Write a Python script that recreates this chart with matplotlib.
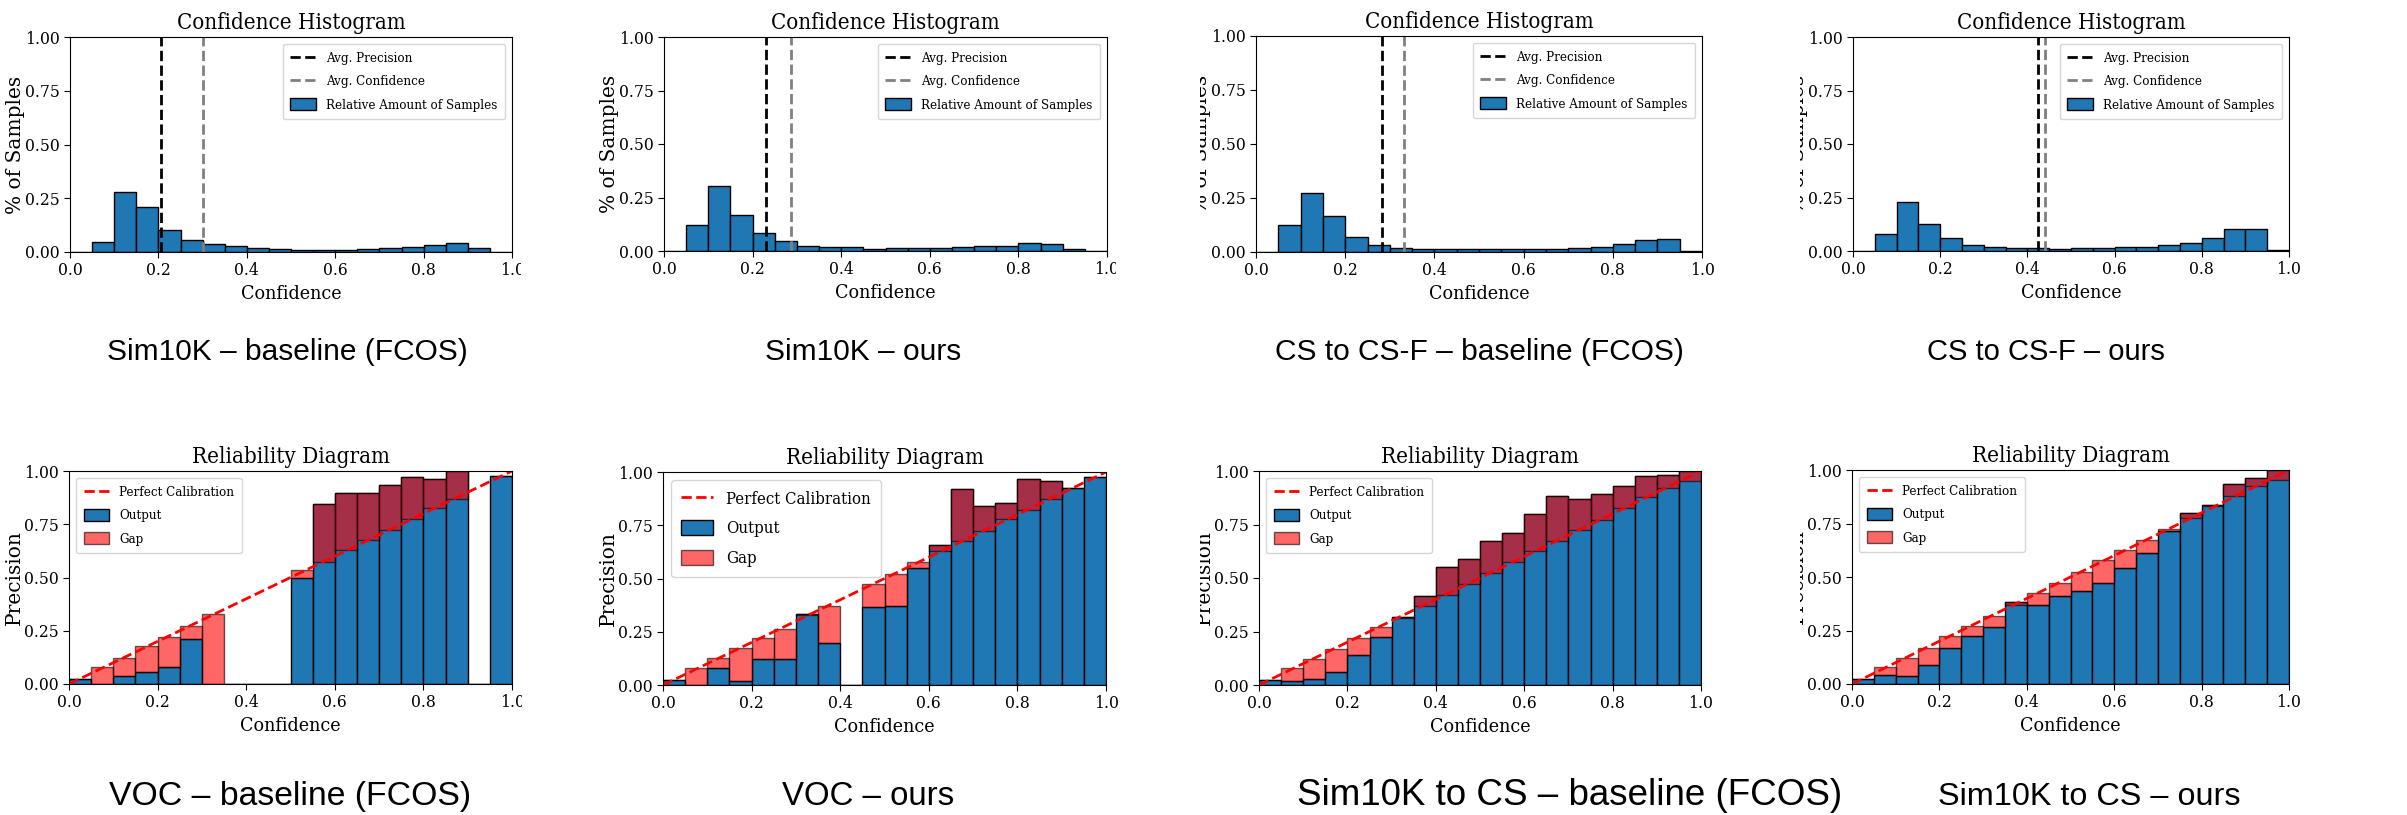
import numpy as np
import matplotlib
matplotlib.use("Agg")
import matplotlib.pyplot as plt
from matplotlib.transforms import Bbox

plt.rcParams['font.family'] = ['DejaVu Serif']
plt.rcParams['font.stretch'] = 'condensed'

W, H = 2407, 815
BLUE = '#1f77b4'

# 20 confidence bins of width 0.05
bin_left = [i * 0.05 for i in range(20)]

# Confidence histograms (top row)
hist_sim10k_base = [0.0, 0.048, 0.280, 0.211, 0.103, 0.055, 0.036, 0.028, 0.019, 0.014,
                    0.011, 0.011, 0.011, 0.014, 0.017, 0.025, 0.034, 0.041, 0.017, 0.0]
hist_sim10k_ours = [0.0, 0.123, 0.305, 0.168, 0.082, 0.049, 0.024, 0.019, 0.017, 0.011,
                    0.013, 0.014, 0.014, 0.019, 0.022, 0.024, 0.039, 0.033, 0.009, 0.0]
hist_cs_base = [0.0, 0.127, 0.272, 0.165, 0.071, 0.034, 0.020, 0.016, 0.012, 0.012,
                0.012, 0.012, 0.012, 0.014, 0.019, 0.024, 0.036, 0.055, 0.060, 0.005]
hist_cs_ours = [0.0, 0.078, 0.227, 0.127, 0.059, 0.028, 0.019, 0.014, 0.013, 0.011,
                0.013, 0.014, 0.017, 0.017, 0.029, 0.039, 0.060, 0.101, 0.104, 0.003]
avg_precision = [0.206, 0.230, 0.282, 0.425]
avg_confidence = [0.302, 0.287, 0.332, 0.441]

# Reliability diagrams (bottom row): precision per bin and mean confidence per bin
acc_voc_base = [0.023, 0.0, 0.039, 0.058, 0.078, 0.212, 0.0, 0.0, 0.0, 0.0,
                0.498, 0.847, 0.895, 0.897, 0.934, 0.972, 0.964, 1.0, 0.0, 0.978]
conf_voc_base = [0.023, 0.078, 0.122, 0.178, 0.222, 0.270, 0.328, 0.0, 0.0, 0.0,
                 0.534, 0.575, 0.627, 0.675, 0.725, 0.775, 0.825, 0.869, 0.0, 0.975]
acc_voc_ours = [0.023, 0.0, 0.078, 0.019, 0.122, 0.122, 0.333, 0.198, 0.0, 0.367,
                0.373, 0.550, 0.658, 0.919, 0.839, 0.855, 0.967, 0.956, 0.925, 0.978]
conf_voc_ours = [0.023, 0.080, 0.125, 0.175, 0.223, 0.264, 0.327, 0.369, 0.0, 0.475,
                 0.522, 0.577, 0.631, 0.677, 0.722, 0.777, 0.820, 0.873, 0.925, 0.975]
acc_s2c_base = [0.022, 0.020, 0.028, 0.059, 0.142, 0.225, 0.320, 0.417, 0.553, 0.588,
                0.672, 0.709, 0.798, 0.883, 0.867, 0.892, 0.931, 0.977, 0.983, 1.0]
conf_s2c_base = [0.022, 0.080, 0.120, 0.167, 0.219, 0.270, 0.312, 0.369, 0.422, 0.473,
                 0.523, 0.575, 0.625, 0.673, 0.723, 0.773, 0.827, 0.877, 0.922, 0.953]
acc_s2c_ours = [0.022, 0.042, 0.037, 0.090, 0.167, 0.225, 0.265, 0.384, 0.371, 0.412,
                0.434, 0.470, 0.543, 0.613, 0.714, 0.799, 0.836, 0.934, 0.961, 1.0]
conf_s2c_ours = [0.022, 0.081, 0.120, 0.168, 0.222, 0.271, 0.320, 0.371, 0.423, 0.474,
                 0.524, 0.579, 0.624, 0.674, 0.725, 0.774, 0.830, 0.880, 0.924, 0.955]

captions_top = ['Sim10K \u2013 baseline (FCOS)', 'Sim10K \u2013 ours',
                'CS to CS-F \u2013 baseline (FCOS)', 'CS to CS-F \u2013 ours']
captions_bottom = ['VOC \u2013 baseline (FCOS)', 'VOC \u2013 ours',
                   'Sim10K to CS \u2013 baseline (FCOS)', 'Sim10K to CS \u2013 ours']

# axes boxes in pixels: left, right, top, bottom
top_boxes = [(70, 512, 37, 252), (664, 1107, 37, 251), (1256, 1702, 36, 252), (1853, 2289, 37, 251)]
bot_boxes = [(69, 512, 471, 684), (663, 1106, 472, 685), (1259, 1701, 471, 685), (1852, 2289, 470, 684)]
# the panels were cropped screenshots: some labels are cut at these pixel columns
top_crop = [(0, 521), (0, 1116), (1200, W), (1800, W)]
bot_crop = [(0, 522), (0, W), (1200, W), (1800, W)]
cap_top_x = [287, 863, 1479, 2046]
cap_bot_x = [290, 868, 1570, 2089]
cap_top_size = [21.5, 21.5, 21.5, 21]
cap_bot_size = [24.3, 23.8, 26.5, 23.3]
rel_legend_size = [9.5, 12, 9.5, 9.5]

fig = plt.figure(figsize=(W / 100, H / 100), dpi=100)


def add_ax(box):
    l, r, t, b = box
    return fig.add_axes([l / W, 1 - b / H, (r - l) / W, (b - t) / H])


def style(ax, box, title, ylabel, crop):
    ax.set_xlim(0, 1)
    ax.set_ylim(0, 1)
    ax.set_xticks([0, 0.2, 0.4, 0.6, 0.8, 1.0])
    ax.set_xticklabels(['0.0', '0.2', '0.4', '0.6', '0.8', '1.0'])
    ax.set_yticks([0, 0.25, 0.5, 0.75, 1.0])
    ax.set_yticklabels(['0.00', '0.25', '0.50', '0.75', '1.00'])
    ax.tick_params(labelsize=12.5, length=4)
    ax.set_title(title, fontsize=16)
    ax.set_xlabel('Confidence', fontsize=14)
    ax.set_ylabel(ylabel, fontsize=14.5, fontstretch='normal')
    # right edge of the y label sits about 45 px left of the axes
    ax.yaxis.set_label_coords(-45 / (box[1] - box[0]), 0.5)
    clip = Bbox([[crop[0], 0], [crop[1], H]])
    for t in [ax.yaxis.label] + ax.get_xticklabels():
        t.set_clip_box(clip)
        t.set_clip_on(True)


hists = [hist_sim10k_base, hist_sim10k_ours, hist_cs_base, hist_cs_ours]
for i in range(4):
    ax = add_ax(top_boxes[i])
    ax.bar(bin_left, hists[i], width=0.05, align='edge', color=BLUE,
           edgecolor='black', linewidth=1, label='Relative Amount of Samples')
    ax.axvline(avg_precision[i], color='black', ls='--', lw=2, label='Avg. Precision')
    ax.axvline(avg_confidence[i], color='gray', ls='--', lw=2, label='Avg. Confidence')
    style(ax, top_boxes[i], 'Confidence Histogram', '% of Samples', top_crop[i])
    ax.legend(loc='upper right', fontsize=9.5, labelspacing=0.75, handleheight=1.0,
              handlelength=1.9, borderpad=0.6)
    fig.text(cap_top_x[i] / W, 1 - 360 / H, captions_top[i], ha='center', va='baseline',
             family='Liberation Sans', fontstretch='normal', fontsize=cap_top_size[i])

accs = [acc_voc_base, acc_voc_ours, acc_s2c_base, acc_s2c_ours]
confs = [conf_voc_base, conf_voc_ours, conf_s2c_base, conf_s2c_ours]
for i in range(4):
    ax = add_ax(bot_boxes[i])
    acc = np.array(accs[i])
    conf = np.array(confs[i])
    ax.bar(bin_left, acc, width=0.05, align='edge', color=BLUE,
           edgecolor='black', linewidth=1, label='Output')
    ax.bar(bin_left, acc - conf, bottom=conf, width=0.05, align='edge', color='red',
           alpha=0.6, edgecolor='black', linewidth=1, label='Gap')
    ax.plot([0, 1], [0, 1], 'r--', lw=2, label='Perfect Calibration')
    style(ax, bot_boxes[i], 'Reliability Diagram', 'Precision', bot_crop[i])
    ax.legend(loc='upper left', fontsize=rel_legend_size[i], labelspacing=0.75,
              handleheight=1.0, handlelength=1.9, borderpad=0.6)
    fig.text(cap_bot_x[i] / W, 1 - 805 / H, captions_bottom[i], ha='center', va='baseline',
             family='Liberation Sans', fontstretch='normal', fontsize=cap_bot_size[i])

fig.savefig('out.png', dpi=100)
